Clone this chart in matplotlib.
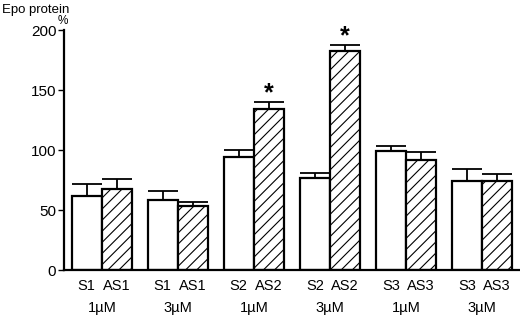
"""Epo protein levels after sense / antisense oligonucleotide treatment."""

import matplotlib
matplotlib.use("Agg")
import matplotlib.pyplot as plt
import matplotlib.transforms as mtransforms

# data (percent of control)
doses = ["1\u00b5M", "3\u00b5M", "1\u00b5M", "3\u00b5M", "1\u00b5M", "3\u00b5M"]
sense_labels = ["S1", "S1", "S2", "S2", "S3", "S3"]
antisense_labels = ["AS1", "AS1", "AS2", "AS2", "AS3", "AS3"]
sense_vals = [62, 58, 94, 77, 99, 74.5]
sense_err = [10, 8, 6, 4, 4, 9.5]
antisense_vals = [67.5, 53, 134, 183, 92, 74.5]
antisense_err = [8.5, 4, 6, 5, 6, 5.5]
significant = [False, False, True, True, False, False]

plt.rcParams["font.family"] = ["Liberation Sans", "DejaVu Sans"]
plt.rcParams["hatch.linewidth"] = 0.8

fig = plt.figure(figsize=(5.2, 3.17), dpi=100)
ax = fig.add_axes([0.123, 0.148, 0.877, 0.757])

w = 0.4
x = list(range(len(doses)))
xs = [i - w / 2 for i in x]
xa = [i + w / 2 for i in x]
zeros = [0] * len(x)

ax.bar(xs, sense_vals, width=w, color="white", edgecolor="black", linewidth=1.6, zorder=2)
ax.bar(xa, antisense_vals, width=w, color="white", edgecolor="black", linewidth=1.6,
       hatch="///", zorder=2)
ax.errorbar(xs, sense_vals, yerr=[zeros, sense_err], fmt="none", ecolor="black",
            elinewidth=1.3, capsize=10.5, capthick=1.3, zorder=1)
ax.errorbar(xa, antisense_vals, yerr=[zeros, antisense_err], fmt="none", ecolor="black",
            elinewidth=1.3, capsize=10.5, capthick=1.3, zorder=1)

for xi, v, e, sig in zip(xa, antisense_vals, antisense_err, significant):
    if sig:
        ax.text(xi, v + e - 3, "*", ha="center", va="bottom", fontsize=18, fontweight="bold")

ax.set_xlim(-0.5, 5.5)
ax.set_ylim(0, 200)
ax.set_yticks([0, 50, 100, 150, 200])
ax.tick_params(axis="y", labelsize=11, length=4, width=1, pad=1.5)
ax.set_xticks([])
for s in ["top", "right"]:
    ax.spines[s].set_visible(False)
ax.spines["left"].set_linewidth(1.6)
ax.spines["bottom"].set_linewidth(1.6)

trans = mtransforms.blended_transform_factory(ax.transData, ax.transAxes)
for i in x:
    ax.text(xs[i], -0.065, sense_labels[i], transform=trans, ha="center", va="center", fontsize=10.5)
    ax.text(xa[i], -0.065, antisense_labels[i], transform=trans, ha="center", va="center", fontsize=10.5)
    ax.text(i, -0.16, doses[i], transform=trans, ha="center", va="center", fontsize=10.5)

fig.text(0.003, 0.968, "Epo protein", ha="left", va="center", fontsize=9.5)
fig.text(0.12, 0.935, "%", ha="center", va="center", fontsize=8.5)

fig.savefig("out.png", dpi=100)
